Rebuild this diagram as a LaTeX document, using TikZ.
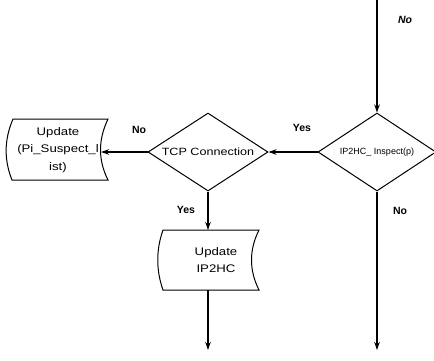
\documentclass[tikz,border=0pt]{standalone}
\usepackage{fontspec}
\setmainfont{Liberation Sans}
\newfontfamily\widefont[FakeStretch=1.2]{Liberation Sans}
\usetikzlibrary{shapes.geometric,arrows.meta,calc}
\begin{document}
\begin{tikzpicture}[x=1pt,y=-1pt,
  line/.style={line width=1.3pt},
  arr/.style={line, -{Stealth[length=8pt,width=5.5pt]}},
  dec/.style={diamond, draw, line width=1pt, inner sep=0pt, aspect=1.55},
  lbl/.style={font=\fontsize{10.5}{11}\selectfont\bfseries},
  boxtxt/.style={align=center, inner sep=0pt, font=\widefont\fontsize{11}{17.5}\selectfont},
  outline/.style={draw, line width=1pt}
]
\useasboundingbox (0,0) rectangle (434,360);
\clip (0,0) rectangle (434,360);

\coordinate (start) at (377,0);
\node[dec, minimum width=118pt, minimum height=78pt, font=\fontsize{9}{10}\selectfont] (ip) at (377,152) {IP2HC\_ Inspect(p)};
\node[dec, minimum width=120pt, minimum height=78pt, font=\widefont\fontsize{10.5}{11}\selectfont] (tcp) at (208,152) {TCP Connection};

\node[boxtxt] (u1) at (58,150) {Update\\(Pi\_Suspect\_l\\ist)};
\draw[outline] ($(u1.center)+(-45,-31)$) -- ($(u1.center)+(50,-31)$)
  .. controls ($(u1.center)+(40,-10)$) and ($(u1.center)+(40,10)$) .. ($(u1.center)+(50,30)$)
  -- ($(u1.center)+(-46,30)$)
  .. controls ($(u1.center)+(-54,10)$) and ($(u1.center)+(-54,-10)$) .. cycle;
\coordinate (u1in) at ($(u1.center)+(43,2)$);

\node[boxtxt] (u2) at (216,260) {Update\\IP2HC};
\draw[outline] ($(u2.center)+(-53,-30)$) -- ($(u2.center)+(43,-30)$)
  .. controls ($(u2.center)+(33,-10)$) and ($(u2.center)+(33,10)$) .. ($(u2.center)+(43,30)$)
  -- ($(u2.center)+(-53,30)$)
  .. controls ($(u2.center)+(-60,10)$) and ($(u2.center)+(-60,-10)$) .. cycle;
\coordinate (u2top) at ($(u2.center)+(-8,-30)$);
\coordinate (u2bot) at ($(u2.center)+(-8,30)$);
\coordinate (end1) at (208,350);
\coordinate (end2) at (377,350);

\draw[arr] (start) -- (ip.north);
\draw[arr] (ip.west) -- (tcp.east);
\draw[arr] (tcp.west) -- (u1in);
\draw[arr] (tcp.south) -- (u2top);
\draw[arr] (u2bot) -- (end1);
\draw[arr] (ip.south) -- (end2);

\node[lbl, font=\fontsize{10.5}{11}\selectfont\bfseries\itshape] (tno) at (405,20) {No};
\node[lbl] (ryes) at (302,128) {Yes};
\node[lbl] (rno) at (400,211) {No};
\node[lbl] (lno) at (139,130) {No};
\node[lbl] (lyes) at (186,210) {Yes};
\end{tikzpicture}
\end{document}
